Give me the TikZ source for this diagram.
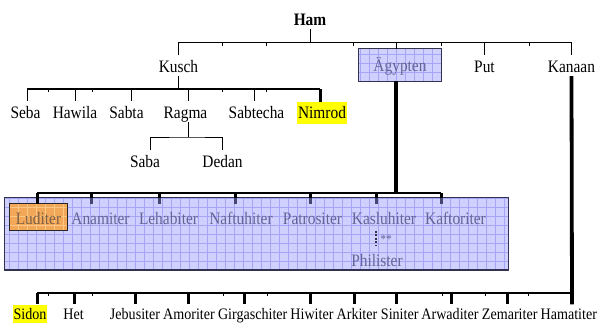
\documentclass[tikz,border=0pt]{standalone}
\usepackage{fontspec}
\setmainfont{Liberation Serif}
\newfontfamily\cond[FakeStretch=0.88]{Liberation Serif}
\pgfdeclarelayer{background}
\pgfsetlayers{background,main}
\definecolor{lavfill}{RGB}{208,208,255}
\definecolor{lavgrid}{RGB}{165,165,245}
\definecolor{orfill}{RGB}{242,168,88}
\definecolor{orgrid}{RGB}{250,200,130}
\definecolor{boxtext}{RGB}{100,100,150}
\definecolor{ludtext}{RGB}{125,95,70}
\definecolor{boxedge}{RGB}{50,50,80}
\definecolor{dropin}{RGB}{70,70,115}
\definecolor{hl}{RGB}{255,255,0}
\tikzset{
  lbl/.style={font=\cond\fontsize{17.5}{20}\selectfont, text height=16.5pt, text depth=4pt,
              inner xsep=1pt, inner ysep=0pt, anchor=base},
  blbl/.style={font=\cond\fontsize{16}{18}\selectfont, text height=15pt, text depth=3.5pt,
               inner xsep=1pt, inner ysep=0pt, anchor=base},
  inlbl/.style={lbl, text depth=3pt, inner ysep=3.5pt, text=boxtext},
  hilite/.style={fill=hl},
  thinl/.style={line width=0.9pt},
  busl/.style={line width=1.5pt},
  dropl/.style={line width=3pt},
  heavyl/.style={line width=3.8pt},
  tickl/.style={line width=0.7pt},
  gridbox/.style={line width=0.5pt, step=9pt},
}
\begin{document}
\begin{tikzpicture}[x=1pt,y=-1pt]
\useasboundingbox (0,0) rectangle (597,322);

% ---------- names ----------
\node[lbl, font={\cond\fontsize{17.5}{20}\selectfont\bfseries}, text height=12pt] (Ham) at (310,25) {Ham};

\node[lbl] (Kusch) at (178.5,72) {Kusch};
\node[lbl, anchor=center, text=boxtext, minimum width=82pt, minimum height=32pt] (Aeg) at (400,65) {Ägypten};
\node[lbl] (Put) at (484.5,72) {Put};
\node[lbl] (Kanaan) at (571.5,72) {Kanaan};

\foreach \n/\x in {Seba/25.5,Hawila/75,Sabta/126.5,Ragma/185.5,Sabtecha/256.5}
  \node[lbl] (\n) at (\x,118) {\n};
\node[lbl, hilite, text height=16pt, text depth=6pt] (Nimrod) at (322,118) {Nimrod};

\node[lbl] (Saba) at (145,167) {Saba};
\node[lbl] (Dedan) at (222.5,167) {Dedan};

% family of Ägypten
\node[inner sep=0pt, minimum width=503pt, minimum height=72pt] (fam) at (256.5,234) {};
\node[inlbl, text=ludtext, minimum width=57pt] (Luditer) at (38.5,224) {Luditer};
\foreach \n/\x in {Anamiter/100.5,Lehabiter/168.5,Naftuhiter/241,Patrositer/312.5,Kasluhiter/384,Kaftoriter/455.5}
  \node[inlbl] (\n) at (\x,224) {\n};
\node[inlbl] (Philister) at (377,266) {Philister};
\node[font=\cond\fontsize{13}{14}\selectfont, text=boxtext, inner sep=0.5pt] (stars) at (386,239) {**};

% family of Kanaan
\node[blbl, hilite] (Sidon) at (30,319.5) {Sidon};
\foreach \n/\x in {Het/73.5,Jebusiter/135,Amoriter/189,Girgaschiter/252.7,Hiwiter/312,Arkiter/357,Siniter/399.7,Arwaditer/450,Zemariter/509.7,Hamatiter/568.8}
  \node[blbl] (\n) at (\x,319.5) {\n};

% ---------- connectors ----------
\coordinate (hamBus) at (310,42.5);
\coordinate (aegTop) at ([xshift=-4pt]Aeg.north);
\coordinate (aegBot) at ([xshift=-4pt]Aeg.south);
\draw[thinl] (Ham.south) -- (hamBus);
\draw[thinl] (Kusch.north) |- (Kanaan.north |- hamBus) -- (Kanaan.north);
\draw[thinl] (aegTop |- hamBus) -- (aegTop);
\draw[thinl] (Put.north |- hamBus) -- (Put.north);
\foreach \x in {222,266,353,441,529} \draw[tickl] (\x,42.5) -- (\x,45.5);

% sons of Kusch
\foreach \n/\d in {Seba/1.5,Hawila/0,Sabta/4.5,Ragma/2.5,Sabtecha/-2.5,Nimrod/-2,Saba/5,Dedan/0}
  \coordinate (\n-t) at ([xshift=\d pt]\n.north);
\coordinate (kuschBus) at (178.5,89);
\draw[thinl] (Kusch.south) -- (kuschBus);
\draw[busl] (Seba-t |- kuschBus) -- (Nimrod-t |- kuschBus);
\foreach \n in {Seba,Hawila,Sabta,Ragma,Sabtecha}
  \draw[thinl] (\n-t |- kuschBus) -- (\n-t);
\draw[dropl] (Nimrod-t |- kuschBus) -- (Nimrod-t);
\foreach \x in {48,92,222,266} \draw[tickl] (\x,89) -- (\x,92);

% sons of Ragma
\coordinate (ragBus) at (188,137);
\draw[thinl] (Ragma-t |- Ragma.south) -- (ragBus);
\draw[thinl] (Saba-t) |- (ragBus) -| (Dedan-t);

% sons of Ägypten
\coordinate (aegBus) at (396,193);
\draw[heavyl] (aegBot) -- (aegBus);
\foreach \n/\d in {Luditer/-1.5,Anamiter/-9.5,Lehabiter/-9.5,Naftuhiter/-6,Patrositer/-2.5,Kasluhiter/-8,Kaftoriter/-14.5}
  \coordinate (\n-t) at ([xshift=\d pt]\n.north);
\draw[busl] (Luditer-t |- aegBus) -- (Kaftoriter-t |- aegBus);
\draw[dropl] (Luditer-t |- aegBus) -- (Luditer-t);
\foreach \n in {Anamiter,Lehabiter,Naftuhiter,Patrositer,Kasluhiter,Kaftoriter}{
  \draw[dropl] (\n-t |- aegBus) -- (\n-t |- fam.north);
  \draw[dropl, dropin] (\n-t |- fam.north) -- (\n-t);
}
\draw[line width=1.2pt, boxedge, dash pattern=on 2pt off 1.5pt]
  (Kasluhiter-t |- Kasluhiter.south) -- (Kasluhiter-t |- Philister.north);

% sons of Kanaan
\foreach \n/\d in {Sidon/7,Het/0.5,Jebusiter/0,Amoriter/-1,Girgaschiter/-8.7,Hiwiter/-2,Arkiter/-3,Siniter/-3.7,Arwaditer/1,Zemariter/-2.7,Hamatiter/3.2}
  \coordinate (\n-t) at ([xshift=\d pt]\n.north);
\coordinate (kanBus) at (572,293);
\draw[heavyl] (Kanaan.south) -- (Hamatiter-t);
\draw[busl] (Sidon-t |- kanBus) -- (kanBus);
\foreach \n in {Sidon,Het,Jebusiter,Amoriter,Girgaschiter,Hiwiter,Arkiter,Siniter,Arwaditer,Zemariter}
  \draw[dropl] (\n-t |- kanBus) -- (\n-t);
\foreach \x in {48,92,223,267,442,485,528} \draw[tickl] (\x,293) -- (\x,296);

% ---------- shaded boxes ----------
\begin{pgfonlayer}{background}
  \fill[lavfill] (fam.south west) rectangle (fam.north east);
  \begin{scope}
    \clip (fam.south west) rectangle (fam.north east);
    \draw[lavgrid, gridbox] (fam.south west) grid (fam.north east);
  \end{scope}
  \draw[boxedge, line width=0.9pt] (fam.south west) rectangle (fam.north east);
  \draw[boxedge, line width=1.6pt] (fam.south west) -- (fam.south east);

  \fill[lavfill] (Aeg.south west) rectangle (Aeg.north east);
  \begin{scope}
    \clip (Aeg.south west) rectangle (Aeg.north east);
    \draw[lavgrid, gridbox] (Aeg.south west) grid (Aeg.north east);
  \end{scope}
  \draw[boxedge, line width=1pt] (Aeg.south west) rectangle (Aeg.north east);

  \fill[orfill] (Luditer.south west) rectangle (Luditer.north east);
  \begin{scope}
    \clip (Luditer.south west) rectangle (Luditer.north east);
    \draw[orgrid, gridbox] (Luditer.south west) grid (Luditer.north east);
  \end{scope}
  \draw[black!85, line width=1pt] (Luditer.south west) rectangle (Luditer.north east);
\end{pgfonlayer}
\end{tikzpicture}
\end{document}
